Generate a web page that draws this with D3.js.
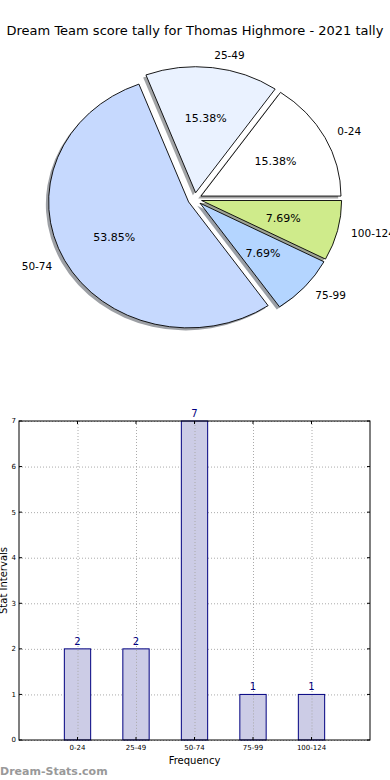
<!DOCTYPE html>
<html>
<head>
<meta charset="utf-8">
<script src="https://cdn.jsdelivr.net/npm/d3@7"></script>
<style>
body { margin: 0; background: #fff; }
svg { display: block; font-family: "DejaVu Sans", sans-serif; }
</style>
</head>
<body>
<svg id="chart" width="390" height="780"></svg>
<script>
// data
var categories = ["0-24", "25-49", "50-74", "75-99", "100-124"]
var counts = [2, 2, 7, 1, 1]
var pieColors = ["#ffffff", "#eaf2ff", "#c6d9fe", "#b4d5ff", "#cfeb8b"]
var yTicks = [0, 1, 2, 3, 4, 5, 6, 7]

var svg = d3.select("#chart")

// title
svg.append("text")
  .attr("x", 195).attr("y", 35)
  .attr("text-anchor", "middle")
  .style("font-size", "13px")
  .text("Dream Team score tally for Thomas Highmore - 2021 tally")

// ---- pie (matplotlib style: starts at 3 o'clock, counter clockwise, elliptical)
var cx = 194.8, cy = 199, rx = 140, ry = 126
var explode = 0.05
var total = d3.sum(counts)

var pie = d3.pie().sort(null).startAngle(Math.PI / 2).endAngle(Math.PI / 2 - 2 * Math.PI)
var arcs = pie(counts)
var arc = d3.arc().innerRadius(0).outerRadius(1)

// offset direction (unit circle) for a slice
function dir(d) {
  var m = (d.startAngle + d.endAngle) / 2
  return [Math.sin(m), -Math.cos(m)]
}

var pg = svg.append("g")

// shadows first
pg.selectAll("path.shadow")
  .data(arcs)
  .enter()
  .append("path")
  .attr("class", "shadow")
  .attr("d", arc)
  .attr("transform", function(d) {
    var v = dir(d)
    return "translate(" + (cx + explode * rx * v[0] - 0.02 * rx) + "," + (cy + explode * ry * v[1] + 0.02 * ry) + ") scale(" + rx + "," + ry + ")"
  })
  .attr("fill", function(d, i) {
    var c = d3.rgb(pieColors[i])
    return d3.rgb(c.r * 0.3, c.g * 0.3, c.b * 0.3)
  })
  .attr("fill-opacity", 0.5)

pg.selectAll("path.wedge")
  .data(arcs)
  .enter()
  .append("path")
  .attr("class", "wedge")
  .attr("d", arc)
  .attr("transform", function(d) {
    var v = dir(d)
    return "translate(" + (cx + explode * rx * v[0]) + "," + (cy + explode * ry * v[1]) + ") scale(" + rx + "," + ry + ")"
  })
  .attr("fill", function(d, i) { return pieColors[i] })
  .attr("stroke", "#000")
  .attr("stroke-width", 0.9)
  .attr("vector-effect", "non-scaling-stroke")

// category labels
pg.selectAll("text.lab")
  .data(arcs)
  .enter()
  .append("text")
  .attr("class", "lab")
  .attr("x", function(d) { return cx + (explode + 1.1) * rx * dir(d)[0] })
  .attr("y", function(d) { return cy + (explode + 1.1) * ry * dir(d)[1] })
  .attr("dy", "0.35em")
  .attr("text-anchor", function(d) { return dir(d)[0] > 0 ? "start" : "end" })
  .style("font-size", "10.5px")
  .text(function(d, i) { return categories[i] })

// percentages
pg.selectAll("text.pct")
  .data(arcs)
  .enter()
  .append("text")
  .attr("class", "pct")
  .attr("x", function(d) { return cx + (explode + 0.6) * rx * dir(d)[0] })
  .attr("y", function(d) { return cy + (explode + 0.6) * ry * dir(d)[1] })
  .attr("dy", "0.35em")
  .attr("text-anchor", "middle")
  .style("font-size", "11px")
  .text(function(d) { return (d.value / total * 100).toFixed(2) + "%" })

// ---- bar chart
var plotLeft = 19, plotRight = 370, plotTop = 421, plotBottom = 740

var x = d3.scaleLinear().domain([-1, 5]).range([plotLeft, plotRight])
var y = d3.scaleLinear().domain([0, 7]).range([plotBottom, plotTop])

var bg = svg.append("g")

// grid
bg.selectAll("line.vg")
  .data(d3.range(categories.length))
  .enter()
  .append("line")
  .attr("x1", d => x(d) + 0.5).attr("x2", d => x(d) + 0.5)
  .attr("y1", plotTop).attr("y2", plotBottom)
  .attr("stroke", "#aaa").attr("stroke-width", 1)
  .attr("stroke-dasharray", "1,2")

bg.selectAll("line.hg")
  .data(yTicks)
  .enter()
  .append("line")
  .attr("x1", plotLeft).attr("x2", plotRight)
  .attr("y1", d => y(d) + 0.5).attr("y2", d => y(d) + 0.5)
  .attr("stroke", "#aaa").attr("stroke-width", 1)
  .attr("stroke-dasharray", "1,2")

// bars
bg.selectAll("rect.bar")
  .data(counts)
  .enter()
  .append("rect")
  .attr("class", "bar")
  .attr("x", (d, i) => x(i - 0.225))
  .attr("width", x(0.45) - x(0))
  .attr("y", d => y(d))
  .attr("height", d => plotBottom - y(d))
  .attr("fill", "#cccce6")
  .attr("stroke", "#000080")
  .attr("stroke-width", 1)

// grid drawn through the bars too
bg.selectAll("line.vg2")
  .data(d3.range(categories.length))
  .enter()
  .append("line")
  .attr("x1", d => x(d) + 0.5).attr("x2", d => x(d) + 0.5)
  .attr("y1", d => y(counts[d]) + 1).attr("y2", plotBottom)
  .attr("stroke", "#aaa").attr("stroke-width", 1)
  .attr("stroke-dasharray", "1,2")

// value labels
bg.selectAll("text.val")
  .data(counts)
  .enter()
  .append("text")
  .attr("class", "val")
  .attr("x", (d, i) => x(i))
  .attr("y", d => y(d) - 4)
  .attr("text-anchor", "middle")
  .attr("fill", "#000080")
  .style("font-size", "10px")
  .text(d => d)

// frame
bg.append("rect")
  .attr("x", plotLeft).attr("y", plotTop)
  .attr("width", plotRight - plotLeft).attr("height", plotBottom - plotTop)
  .attr("fill", "none").attr("stroke", "#000").attr("stroke-width", 1)

// ticks (inward, both sides)
yTicks.forEach(function(t) {
  bg.append("line").attr("x1", plotLeft).attr("x2", plotLeft + 3).attr("y1", y(t)).attr("y2", y(t)).attr("stroke", "#000")
  bg.append("line").attr("x1", plotRight - 3).attr("x2", plotRight).attr("y1", y(t)).attr("y2", y(t)).attr("stroke", "#000")
  bg.append("text").attr("x", plotLeft - 3).attr("y", y(t)).attr("dy", "0.35em")
    .attr("text-anchor", "end").style("font-size", "7px").text(t)
})
categories.forEach(function(c, i) {
  bg.append("line").attr("x1", x(i)).attr("x2", x(i)).attr("y1", plotBottom).attr("y2", plotBottom - 3).attr("stroke", "#000")
  bg.append("line").attr("x1", x(i)).attr("x2", x(i)).attr("y1", plotTop).attr("y2", plotTop + 3).attr("stroke", "#000")
  bg.append("text").attr("x", x(i)).attr("y", plotBottom + 10)
    .attr("text-anchor", "middle").style("font-size", "7px").text(c)
})

// axis labels
bg.append("text")
  .attr("x", (plotLeft + plotRight) / 2).attr("y", 764)
  .attr("text-anchor", "middle")
  .style("font-size", "10px")
  .text("Frequency")

bg.append("text")
  .attr("transform", "translate(7," + (plotTop + plotBottom) / 2 + ") rotate(-90)")
  .attr("text-anchor", "middle")
  .style("font-size", "10px")
  .text("Stat Intervals")

// watermark
svg.append("text")
  .attr("x", 0).attr("y", 775)
  .attr("fill", "#999")
  .style("font-size", "11px")
  .style("font-weight", "bold")
  .text("Dream-Stats.com")
</script>
</body>
</html>
